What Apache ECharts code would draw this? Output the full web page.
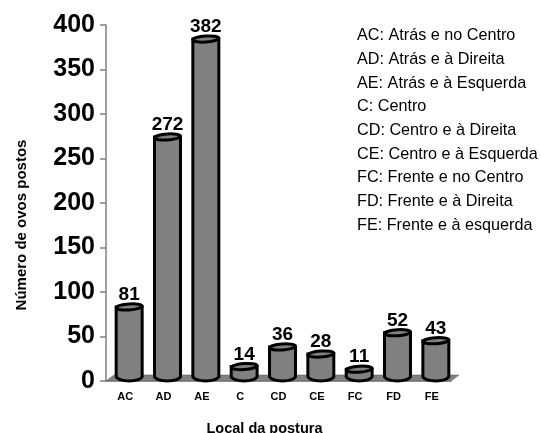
<!DOCTYPE html>
<html>
<head>
<meta charset="utf-8">
<style>
html, body { margin: 0; padding: 0; background: #fff; overflow: hidden; }
#main { width: 541px; height: 433px; }
</style>
<script src="https://cdn.jsdelivr.net/npm/echarts@6/dist/echarts.min.js"></script>
</head>
<body>
<div id="main"></div>
<script>
//数据
const categories = ["AC", "AD", "AE", "C", "CD", "CE", "FC", "FD", "FE"];
const values = [81, 272, 382, 14, 36, 28, 11, 52, 43];
const yTicks = { min: 0, max: 400, interval: 50 };
const legendLines = [
    "AC: Atrás e no Centro",
    "AD: Atrás e à Direita",
    "AE: Atrás e à Esquerda",
    "C: Centro",
    "CD: Centro e à Direita",
    "CE: Centro e à Esquerda",
    "FC: Frente e no Centro",
    "FD: Frente e à Direita",
    "FE: Frente e à esquerda"
];
const xName = "Local da postura";
const yName = "Número de ovos postos";

const font = "'Liberation Sans', Arial, sans-serif";
const depthX = 8, depthY = 6; //地板的透视偏移

//圆柱
function renderCylinder(params, api) {
    let base = api.coord([api.value(0), 0]);
    let top = api.coord([api.value(0), api.value(1)]);
    let cx = base[0] + 4;
    let rx = 13, ry = 3;
    let yBase = base[1] - 4;
    let yTop = top[1] - 2;
    let stroke = { fill: "#808080", stroke: "#000", lineWidth: 3 };
    return {
        type: "group",
        children: [
            {
                type: "path",
                shape: {
                    pathData: "M" + (cx - rx) + " " + yTop + "L" + (cx - rx) + " " + yBase +
                        "C" + (cx - rx + 4) + " " + (yBase + 5.4) + " " + (cx + rx - 4) + " " + (yBase + 5.4) + " " + (cx + rx) + " " + yBase +
                        "L" + (cx + rx) + " " + yTop + "Z",
                    x: cx - rx, y: yTop, width: rx * 2, height: yBase - yTop + 4
                },
                style: stroke
            },
            {
                type: "ellipse",
                shape: { cx: 0, cy: 0, rx: rx, ry: ry },
                x: cx, y: yTop, rotation: 0.07,
                style: stroke
            },
            {
                type: "text",
                x: cx, y: yTop - 12,
                style: {
                    text: String(api.value(1)),
                    font: "bold 19px " + font,
                    fill: "#000", align: "center", verticalAlign: "middle"
                }
            }
        ]
    };
}

//地板
function renderFloor(params, api) {
    let left = api.coord([0, 0]);
    let size = api.size([1, 0]);
    let x0 = left[0] - size[0] / 2;
    let x1 = x0 + size[0] * categories.length;
    let y = left[1];
    return {
        type: "polygon",
        shape: { points: [[x0, y], [x1, y], [x1 + depthX, y - depthY], [x0 + depthX, y - depthY]] },
        style: { fill: "#808080", stroke: "#555", lineWidth: 0.5 }
    };
}

let myChart = echarts.init(document.getElementById("main"));
let option = {
    animation: false,
    backgroundColor: "#fff",
    grid: { left: 106, top: 25, width: 345, height: 356, outerBoundsMode: "none" },
    xAxis: {
        type: "category",
        data: categories,
        name: xName,
        nameLocation: "center",
        nameGap: 40,
        nameTextStyle: { fontFamily: font, fontWeight: "bold", fontSize: 14.5, color: "#000", padding: [0, 28, 0, 0] },
        axisLine: { lineStyle: { color: "#808080", width: 1.5 } },
        axisTick: { lineStyle: { color: "#808080", width: 1.5 }, length: 6, alignWithLabel: false },
        axisLabel: { fontFamily: font, fontWeight: "bold", fontSize: 11, color: "#000", margin: 10, interval: 0 }
    },
    yAxis: {
        type: "value",
        min: yTicks.min,
        max: yTicks.max,
        interval: yTicks.interval,
        name: yName,
        nameLocation: "center",
        nameGap: 77,
        nameTextStyle: { fontFamily: font, fontWeight: "bold", fontSize: 15, color: "#000", padding: [0, 44, 0, 0] },
        axisLine: { show: true, lineStyle: { color: "#808080", width: 1.5 } },
        axisTick: { show: true, lineStyle: { color: "#808080", width: 1.5 }, length: 6 },
        axisLabel: { fontFamily: font, fontWeight: "bold", fontSize: 25, color: "#000", margin: 11 },
        splitLine: { show: false }
    },
    series: [
        {
            type: "custom",
            renderItem: renderFloor,
            data: [[0]],
            encode: { x: 0 },
            z: 1,
            silent: true
        },
        {
            type: "custom",
            renderItem: renderCylinder,
            data: categories.map(function (c, i) { return [i, values[i]]; }),
            encode: { x: 0, y: 1 },
            clip: false,
            z: 2
        }
    ],
    graphic: legendLines.map(function (line, i) {
        return {
            type: "text",
            left: 357,
            top: 28 + i * 23.65,
            style: { text: line, font: "16.2px " + font, fill: "#000" }
        };
    })
};
myChart.setOption(option);
</script>
</body>
</html>
